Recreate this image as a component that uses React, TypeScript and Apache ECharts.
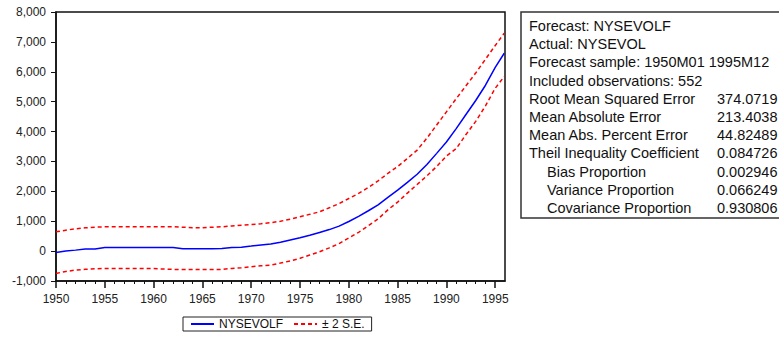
import React, { useEffect, useRef } from "react";
import * as echarts from "echarts";

// Forecast of NYSE volume with ±2 standard-error bands (annual readings, last point = 1995M12)
const years = [
  1950, 1951, 1952, 1953, 1954, 1955, 1956, 1957, 1958, 1959, 1960, 1961,
  1962, 1963, 1964, 1965, 1966, 1967, 1968, 1969, 1970, 1971, 1972, 1973,
  1974, 1975, 1976, 1977, 1978, 1979, 1980, 1981, 1982, 1983, 1984, 1985,
  1986, 1987, 1988, 1989, 1990, 1991, 1992, 1993, 1994, 1995, 1995.92,
];

const forecast = [
  -45, 0, 33, 67, 67, 123, 123, 123, 123, 123, 123, 123,
  123, 78, 78, 78, 78, 85, 123, 130, 167, 205, 240, 300,
  375, 450, 530, 625, 720, 836, 990, 1160, 1350, 1550, 1800, 2040,
  2300, 2570, 2900, 3270, 3650, 4100, 4570, 5040, 5550, 6150, 6620,
];

const upperBand = [
  646, 700, 745, 780, 800, 813, 813, 813, 813, 813, 813, 813,
  813, 800, 780, 780, 800, 813, 840, 865, 890, 915, 950, 1000,
  1070, 1150, 1230, 1315, 1450, 1590, 1760, 1930, 2130, 2350, 2600, 2830,
  3100, 3380, 3780, 4220, 4660, 5100, 5530, 5960, 6420, 6880, 7290,
];

const lowerBand = [
  -747, -680, -636, -610, -590, -580, -580, -580, -580, -580, -580, -600,
  -613, -613, -613, -613, -613, -613, -580, -560, -524, -490, -468, -400,
  -330, -240, -130, -22, 110, 250, 440, 630, 850, 1080, 1380, 1640,
  1940, 2230, 2520, 2830, 3180, 3430, 3900, 4340, 4860, 5450, 5840,
];

const majorYears = [1950, 1955, 1960, 1965, 1970, 1975, 1980, 1985, 1990, 1995];
const minorYears = [
  1951, 1952, 1953, 1954, 1956, 1957, 1958, 1959, 1961, 1962, 1963, 1964,
  1966, 1967, 1968, 1969, 1971, 1972, 1973, 1974, 1976, 1977, 1978, 1979,
  1981, 1982, 1983, 1984, 1986, 1987, 1988, 1989, 1991, 1992, 1993, 1994,
];

// Forecast evaluation table
const statLabels = [
  "Forecast: NYSEVOLF",
  "Actual: NYSEVOL",
  "Forecast sample: 1950M01 1995M12",
  "Included observations: 552",
  "Root Mean Squared Error",
  "Mean Absolute Error",
  "Mean Abs. Percent Error",
  "Theil Inequality Coefficient",
  "Bias Proportion",
  "Variance Proportion",
  "Covariance Proportion",
];
const statIndented = [false, false, false, false, false, false, false, false, true, true, true];
const statValues = ["", "", "", "", "374.0719", "213.4038", "44.82489", "0.084726", "0.002946", "0.066249", "0.930806"];

const FONT = "'Liberation Sans', Arial, sans-serif";

function pairs(vals: number[]) {
  return years.map((y, i) => [y, vals[i]]);
}

function buildTable() {
  const children: any[] = [
    {
      type: "rect",
      shape: { x: 521, y: 12, width: 300, height: 206 },
      style: { fill: "#fff", stroke: "#333", lineWidth: 1.5 },
    },
  ];
  statLabels.forEach((label, i) => {
    const y = 26 + i * 18.2;
    children.push({
      type: "text",
      x: statIndented[i] ? 547 : 529,
      y,
      style: { text: label, font: `14.5px ${FONT}`, fill: "#111", textVerticalAlign: "middle" },
    });
    if (statValues[i]) {
      children.push({
        type: "text",
        x: 717,
        y,
        style: { text: statValues[i], font: `14.5px ${FONT}`, fill: "#111", textVerticalAlign: "middle" },
      });
    }
  });
  return children;
}

export default function App() {
  const ref = useRef<HTMLDivElement>(null);

  useEffect(() => {
    document.body.style.margin = "0";
    if (!ref.current) return;
    const chart = echarts.init(ref.current, null, { renderer: "svg" });
    const axisColor = "#111";
    chart.setOption({
      animation: false,
      backgroundColor: "#fff",
      grid: {
        left: 56,
        top: 12,
        right: 274,
        bottom: 60,
        show: true,
        borderColor: axisColor,
        borderWidth: 1.5,
        backgroundColor: "#fff",
      },
      legend: {
        left: 183,
        top: 317,
        padding: [1, 7, 1, 7],
        borderColor: "#222",
        borderWidth: 1,
        backgroundColor: "#fff",
        itemWidth: 23,
        itemHeight: 12,
        itemGap: 10,
        itemStyle: { opacity: 0 },
        textStyle: { fontFamily: FONT, fontSize: 12, color: "#111" },
        data: ["NYSEVOLF", "± 2 S.E."],
      },
      xAxis: [
        {
          type: "value",
          min: 1950,
          max: 1996,
          position: "bottom",
          splitLine: { show: false },
          axisLine: { show: true, onZero: false, lineStyle: { color: axisColor, width: 1.5 } },
          axisTick: { show: true, length: 3, customValues: minorYears, lineStyle: { color: axisColor } },
          axisLabel: { show: false },
        },
        {
          type: "value",
          min: 1950,
          max: 1996,
          position: "bottom",
          splitLine: { show: false },
          axisLine: { show: false, onZero: false },
          axisTick: { show: true, length: 7, customValues: majorYears, lineStyle: { color: axisColor, width: 1.5 } },
          axisLabel: {
            show: true,
            customValues: majorYears,
            margin: 12,
            fontFamily: FONT,
            fontSize: 12,
            color: "#222",
            formatter: (v: number) => String(v),
          },
        },
      ],
      yAxis: {
        type: "value",
        min: -1000,
        max: 8000,
        interval: 1000,
        splitLine: { show: false },
        axisLine: { show: true, onZero: false, lineStyle: { color: axisColor, width: 1.5 } },
        axisTick: { show: true, length: 5, lineStyle: { color: axisColor } },
        axisLabel: {
          margin: 10,
          fontFamily: FONT,
          fontSize: 12,
          color: "#222",
          formatter: (v: number) => v.toLocaleString("en-US"),
        },
      },
      series: [
        {
          name: "NYSEVOLF",
          type: "line",
          xAxisIndex: 0,
          data: pairs(forecast),
          symbol: "none",
          lineStyle: { color: "#0000ff", width: 1.5 },
          itemStyle: { color: "#0000ff" },
        },
        {
          name: "± 2 S.E.",
          type: "line",
          xAxisIndex: 0,
          data: pairs(upperBand),
          symbol: "none",
          lineStyle: { color: "#ff0000", width: 1.5, type: [4, 3] },
          itemStyle: { color: "#ff0000" },
        },
        {
          name: "± 2 S.E.",
          type: "line",
          xAxisIndex: 0,
          data: pairs(lowerBand),
          symbol: "none",
          lineStyle: { color: "#ff0000", width: 1.5, type: [4, 3] },
          itemStyle: { color: "#ff0000" },
        },
      ],
      graphic: buildTable(),
    });
    return () => chart.dispose();
  }, []);

  return <div ref={ref} style={{ width: 779, height: 341 }} />;
}
